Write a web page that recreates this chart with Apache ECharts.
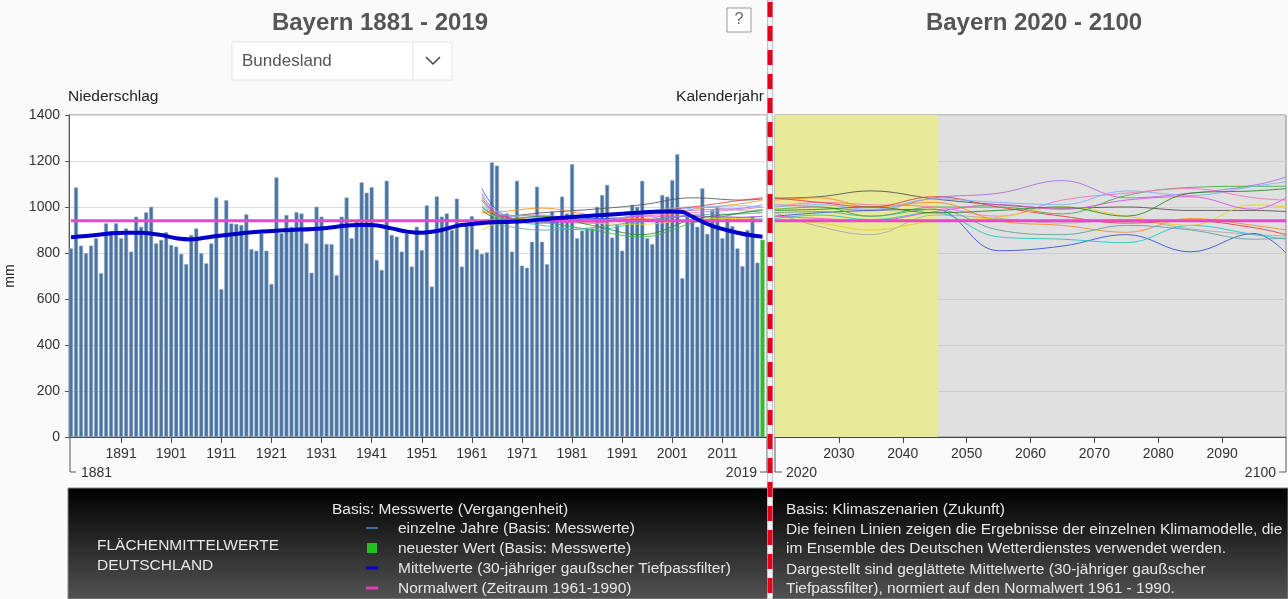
<!DOCTYPE html>
<html>
<head>
<meta charset="utf-8">
<script src="https://cdn.jsdelivr.net/npm/echarts@6/dist/echarts.min.js"></script>
<style>
  html, body { margin: 0; padding: 0; background: #fafafa; }
  #chart { width: 1288px; height: 599px; }
</style>
</head>
<body>
<div id="chart"></div>
<script>
// Jahresniederschlag Bayern (mm), 1881 - 2019
const firstYear = 1881
const precip = [
  820, 1085, 832, 799, 832, 864, 712, 929, 893, 929,
  864, 907, 806, 958, 914, 977, 1001, 842, 857, 890,
  835, 828, 796, 752, 878, 907, 799, 755, 842, 1041,
  643, 1030, 929, 926, 922, 968, 817, 810, 886, 810,
  665, 1129, 886, 965, 914, 977, 972, 842, 714, 1001,
  958, 839, 838, 704, 958, 1041, 864, 936, 1107, 1062,
  1086, 770, 726, 1114, 878, 871, 806, 886, 741, 914,
  813, 1007, 654, 1046, 958, 972, 900, 1036, 741, 917,
  960, 816, 796, 803, 1194, 1180, 965, 972, 806, 1114,
  745, 736, 849, 1088, 849, 751, 980, 958, 1045, 972,
  1186, 864, 897, 907, 907, 1001, 1052, 1096, 867, 922,
  810, 943, 1009, 1001, 1114, 864, 839, 943, 1052, 1045,
  1117, 1230, 690, 958, 943, 914, 1081, 883, 987, 999,
  864, 951, 917, 820, 743, 900, 958, 758, 857
]
const years = precip.map((_, i) => firstYear + i)
const lastYear = years[years.length - 1]

// 30-jähriger Gaußfilter
const meanYears = [1881, 1886, 1889, 1892, 1895, 1899, 1902, 1905, 1909, 1912, 1915, 1919, 1922, 1925,
  1931, 1938, 1941, 1945, 1948, 1951, 1955, 1958, 1961, 1965, 1968, 1971, 1977, 1981, 1987, 1994,
  2000, 2003, 2005, 2007, 2010, 2014, 2017, 2019]
const meanValues = [868, 878, 886, 888, 888, 878, 864, 859, 871, 878, 886, 893, 897, 900,
  907, 922, 922, 907, 893, 888, 900, 918, 926, 934, 935, 938, 950, 957, 965, 975,
  980, 978, 958, 936, 910, 888, 876, 871]

const normalValue = 940
const futureStart = 2020
const futureEnd = 2100
const yellowEnd = 2045.5

const pastTicks = [1891, 1901, 1911, 1921, 1931, 1941, 1951, 1961, 1971, 1981, 1991, 2001, 2011]
const futureTicks = [2030, 2040, 2050, 2060, 2070, 2080, 2090]

// Klimamodelle (geglättet)
const modelPastYears = [1963, 1967, 1975, 1985, 1995, 2005, 2015, 2019]
const modelFutureYears = [2020, 2027, 2035, 2045, 2055, 2065, 2075, 2085, 2095, 2100]
const modelColors = ['#555555', '#aaaaaa', '#b070e0', '#3355dd', '#20c8c8', '#44b044', '#ff70c0',
  '#ff8c20', '#e04040', '#7fb0ff', '#e8d020', '#66a0a0', '#e050e0', '#2a8a2a']
const modelPast = [
  [1000, 960, 975, 990, 1010, 1040, 1030, 1035],
  [990, 950, 940, 960, 980, 1000, 985, 975],
  [1060, 965, 960, 945, 965, 985, 995, 1010],
  [1080, 970, 930, 950, 945, 960, 955, 960],
  [1010, 955, 920, 900, 935, 960, 945, 950],
  [1000, 950, 935, 900, 870, 930, 975, 990],
  [1030, 960, 965, 935, 960, 975, 990, 1000],
  [975, 980, 995, 965, 950, 990, 1015, 1030],
  [1040, 960, 945, 960, 975, 1000, 1030, 1040],
  [1050, 970, 950, 935, 970, 995, 1005, 1000],
  [900, 935, 955, 930, 925, 945, 950, 945],
  [940, 920, 900, 910, 940, 965, 970, 975],
  [1030, 955, 940, 930, 960, 960, 955, 960],
  [985, 945, 960, 920, 880, 945, 975, 985]
]
const modelFuture = [
  [1038, 1045, 1070, 1035, 1010, 995, 1000, 985, 985, 980],
  [975, 915, 880, 965, 950, 930, 945, 905, 880, 875],
  [1010, 1000, 985, 1040, 1060, 1115, 1040, 1060, 1095, 1130],
  [960, 975, 985, 990, 810, 830, 880, 805, 885, 800],
  [950, 965, 945, 975, 870, 860, 845, 920, 880, 860],
  [990, 1000, 960, 1000, 1000, 970, 1050, 1085, 1090, 1090],
  [1000, 1020, 1010, 1000, 960, 1030, 1060, 1080, 1040, 1030],
  [1030, 1040, 1000, 1020, 940, 920, 890, 950, 920, 900],
  [1040, 1020, 1000, 1045, 1000, 960, 930, 940, 910, 880],
  [1000, 1010, 990, 1035, 1020, 1010, 1070, 1050, 1090, 1110],
  [945, 930, 900, 940, 955, 1000, 960, 920, 1010, 1000],
  [975, 980, 960, 990, 900, 880, 920, 900, 860, 865],
  [960, 950, 940, 980, 1010, 990, 1030, 1045, 990, 1040],
  [985, 990, 1000, 975, 985, 1000, 960, 1060, 1070, 1080]
]

const FONT = '"Liberation Sans", Arial, sans-serif'
const chart = echarts.init(document.getElementById('chart'))
const plain = v => String(v)

const modelSeries = []
modelColors.forEach((c, i) => {
  modelSeries.push({
    type: 'line', xAxisIndex: 0, yAxisIndex: 0, smooth: 0.4, symbol: 'none', silent: true, z: 3,
    lineStyle: { color: c, width: 1, opacity: 0.85 },
    data: modelPastYears.map((y, k) => [y, modelPast[i][k]])
  })
  modelSeries.push({
    type: 'line', xAxisIndex: 1, yAxisIndex: 1, smooth: 0.4, symbol: 'none', silent: true, z: 3,
    lineStyle: { color: c, width: 1, opacity: 0.9 },
    data: modelFutureYears.map((y, k) => [y, modelFuture[i][k]])
  })
})

const txt = (text, x, y, opts = {}) => ({
  type: 'text', x, y, z: opts.z || 50,
  style: {
    text, fill: opts.fill || '#222', font: opts.font || ('15px ' + FONT),
    textAlign: opts.align || 'left', textVerticalAlign: 'middle'
  }
})
const ln = (x1, y1, x2, y2, stroke, w, z) => ({
  type: 'line', z: z || 50, shape: { x1, y1, x2, y2 }, style: { stroke, lineWidth: w || 1 }
})

const legendFill = '#e6e6e6'
const legendFont = '15.5px ' + FONT
const tickFont = '14px ' + FONT
const graphics = [
  // Kopf
  txt('Bayern 1881 - 2019', 380, 23, { font: 'bold 24px ' + FONT, fill: '#555', align: 'center' }),
  txt('Bayern 2020 - 2100', 1034, 23, { font: 'bold 24px ' + FONT, fill: '#555', align: 'center' }),
  { type: 'rect', z: 40, shape: { x: 232, y: 42, width: 220, height: 38 }, style: { fill: '#fff', stroke: '#e4e4e4' } },
  ln(413, 42, 413, 80, '#e4e4e4', 1),
  { type: 'polyline', z: 50, shape: { points: [[426, 57], [433, 64], [440, 57]] }, style: { stroke: '#444', lineWidth: 1.5, fill: null } },
  txt('Bundesland', 242, 61, { font: '17px ' + FONT, fill: '#555' }),
  { type: 'rect', z: 40, shape: { x: 727, y: 8, width: 24, height: 24 }, style: { fill: '#fff', stroke: '#999' } },
  txt('?', 739, 20, { font: '16px ' + FONT, fill: '#666', align: 'center' }),
  txt('Niederschlag', 68, 97, { font: '15.5px ' + FONT }),
  txt('Kalenderjahr', 764, 97, { font: '15.5px ' + FONT, align: 'right' }),
  // Zeitraum-Klammern
  ln(70, 437, 70, 472, '#555'), ln(70, 472, 76, 472, '#555'),
  txt('1881', 81, 473, { font: tickFont, fill: '#333' }),
  ln(767, 437, 767, 472, '#555'), ln(760, 472, 767, 472, '#555'),
  txt('2019', 757, 473, { font: tickFont, fill: '#333', align: 'right' }),
  ln(775, 437, 775, 472, '#555'), ln(775, 472, 782, 472, '#555'),
  txt('2020', 786, 473, { font: tickFont, fill: '#333' }),
  ln(1286, 437, 1286, 472, '#555'), ln(1279, 472, 1286, 472, '#555'),
  txt('2100', 1276, 473, { font: tickFont, fill: '#333', align: 'right' }),
  // Legende
  {
    type: 'rect', z: 40, shape: { x: 68, y: 488, width: 1220, height: 111 },
    style: {
      stroke: '#888', lineWidth: 1,
      fill: new echarts.graphic.LinearGradient(0, 0, 0, 1, [
        { offset: 0, color: '#000' }, { offset: 1, color: '#525252' }
      ])
    }
  },
  txt('FLÄCHENMITTELWERTE', 97, 546, { fill: legendFill, font: legendFont }),
  txt('DEUTSCHLAND', 97, 566, { fill: legendFill, font: legendFont }),
  txt('Basis: Messwerte (Vergangenheit)', 332, 510, { fill: legendFill, font: legendFont }),
  ln(366, 528, 378, 528, '#3a6ea5', 2),
  txt('einzelne Jahre (Basis: Messwerte)', 398, 529, { fill: legendFill, font: legendFont }),
  { type: 'rect', z: 50, shape: { x: 367, y: 543, width: 10, height: 10 }, style: { fill: '#22c022' } },
  txt('neuester Wert (Basis: Messwerte)', 398, 549, { fill: legendFill, font: legendFont }),
  ln(366, 568, 378, 568, '#0000c8', 3),
  txt('Mittelwerte (30-jähriger gaußscher Tiefpassfilter)', 398, 569, { fill: legendFill, font: legendFont }),
  ln(366, 588, 378, 588, '#e040b0', 3),
  txt('Normalwert (Zeitraum 1961-1990)', 398, 589, { fill: legendFill, font: legendFont }),
  txt('Basis: Klimaszenarien (Zukunft)', 786, 510, { fill: legendFill, font: legendFont }),
  txt('Die feinen Linien zeigen die Ergebnisse der einzelnen Klimamodelle, die', 786, 530, { fill: legendFill, font: legendFont }),
  txt('im Ensemble des Deutschen Wetterdienstes verwendet werden.', 786, 549, { fill: legendFill, font: legendFont }),
  txt('Dargestellt sind geglättete Mittelwerte (30-jähriger gaußscher', 786, 570, { fill: legendFill, font: legendFont }),
  txt('Tiefpassfilter), normiert auf den Normalwert 1961 - 1990.', 786, 589, { fill: legendFill, font: legendFont }),
  // Trennlinie Vergangenheit / Zukunft
  { type: 'rect', z: 90, shape: { x: 767.5, y: 0, width: 5, height: 599 }, style: { fill: '#f2f2f2', stroke: '#c4c4c4', lineWidth: 1 } },
  { type: 'line', z: 100, shape: { x1: 770, y1: 2, x2: 770, y2: 599 }, style: { stroke: '#e3001b', lineWidth: 5, lineDash: [15, 9] } }
]

const option = {
  animation: false,
  backgroundColor: '#fafafa',
  grid: [
    { left: 69, top: 115, width: 698, height: 322, outerBoundsMode: 'none', show: true, backgroundColor: '#fff', borderColor: '#888', borderWidth: 1 },
    { left: 775, top: 115, width: 511, height: 322, outerBoundsMode: 'none', show: true, backgroundColor: '#e0e0e0', borderColor: '#888', borderWidth: 1 }
  ],
  xAxis: [
    {
      type: 'value', gridIndex: 0, min: 1880.6, max: 2019.9,
      axisLine: { lineStyle: { color: '#444' } },
      axisTick: { customValues: pastTicks, length: 6, lineStyle: { color: '#444' } },
      axisLabel: { customValues: pastTicks, formatter: plain, margin: 10, fontSize: 14, color: '#333', fontFamily: FONT },
      splitLine: { show: false }
    },
    {
      type: 'value', gridIndex: 1, min: futureStart, max: futureEnd,
      axisLine: { lineStyle: { color: '#444' } },
      axisTick: { customValues: futureTicks, length: 6, lineStyle: { color: '#444' } },
      axisLabel: { customValues: futureTicks, formatter: plain, margin: 10, fontSize: 14, color: '#333', fontFamily: FONT },
      splitLine: { show: false }
    }
  ],
  yAxis: [
    {
      type: 'value', gridIndex: 0, min: 0, max: 1400, interval: 200,
      name: 'mm', nameLocation: 'middle', nameGap: 52, nameRotate: 90,
      nameTextStyle: { fontSize: 14, color: '#222', fontFamily: FONT },
      axisLine: { show: true, lineStyle: { color: '#555' } },
      axisTick: { show: true, length: 4, lineStyle: { color: '#555' } },
      axisLabel: { formatter: plain, fontSize: 14, color: '#333', margin: 9, fontFamily: FONT },
      splitLine: { lineStyle: { color: '#dcdcdc' } }
    },
    {
      type: 'value', gridIndex: 1, min: 0, max: 1400, interval: 200,
      axisLine: { show: true, lineStyle: { color: '#aaa' } },
      axisTick: { show: false },
      axisLabel: { show: false },
      splitLine: { lineStyle: { color: '#cdcdcd' } }
    }
  ],
  series: [
    {
      type: 'bar', xAxisIndex: 0, yAxisIndex: 0, barWidth: 4, z: 2, silent: true,
      itemStyle: { color: '#4a73a1', borderColor: '#8eaac8', borderWidth: 0.6 },
      data: years.map((y, i) => ({
        value: [y, precip[i]],
        itemStyle: y === lastYear ? { color: '#33bb33', borderColor: '#33bb33' } : undefined
      }))
    },
    {
      type: 'line', xAxisIndex: 1, yAxisIndex: 1, symbol: 'none', silent: true, z: 1,
      data: [],
      markArea: {
        silent: true,
        itemStyle: { color: '#e9e99a' },
        data: [[{ xAxis: futureStart }, { xAxis: yellowEnd }]]
      }
    },
    ...modelSeries,
    {
      type: 'line', xAxisIndex: 0, yAxisIndex: 0, symbol: 'none', silent: true, z: 4,
      lineStyle: { color: '#ee44cc', width: 3 },
      data: [[firstYear, normalValue], [lastYear, normalValue]]
    },
    {
      type: 'line', xAxisIndex: 1, yAxisIndex: 1, symbol: 'none', silent: true, z: 4,
      lineStyle: { color: '#ee44cc', width: 3 },
      data: [[futureStart, normalValue], [futureEnd, normalValue]]
    },
    {
      type: 'line', xAxisIndex: 0, yAxisIndex: 0, symbol: 'none', silent: true, z: 5,
      smooth: 0.3,
      lineStyle: { color: '#0000c8', width: 4 },
      data: meanYears.map((y, i) => [y, meanValues[i]])
    }
  ],
  graphic: graphics
}

chart.setOption(option)
</script>
</body>
</html>
